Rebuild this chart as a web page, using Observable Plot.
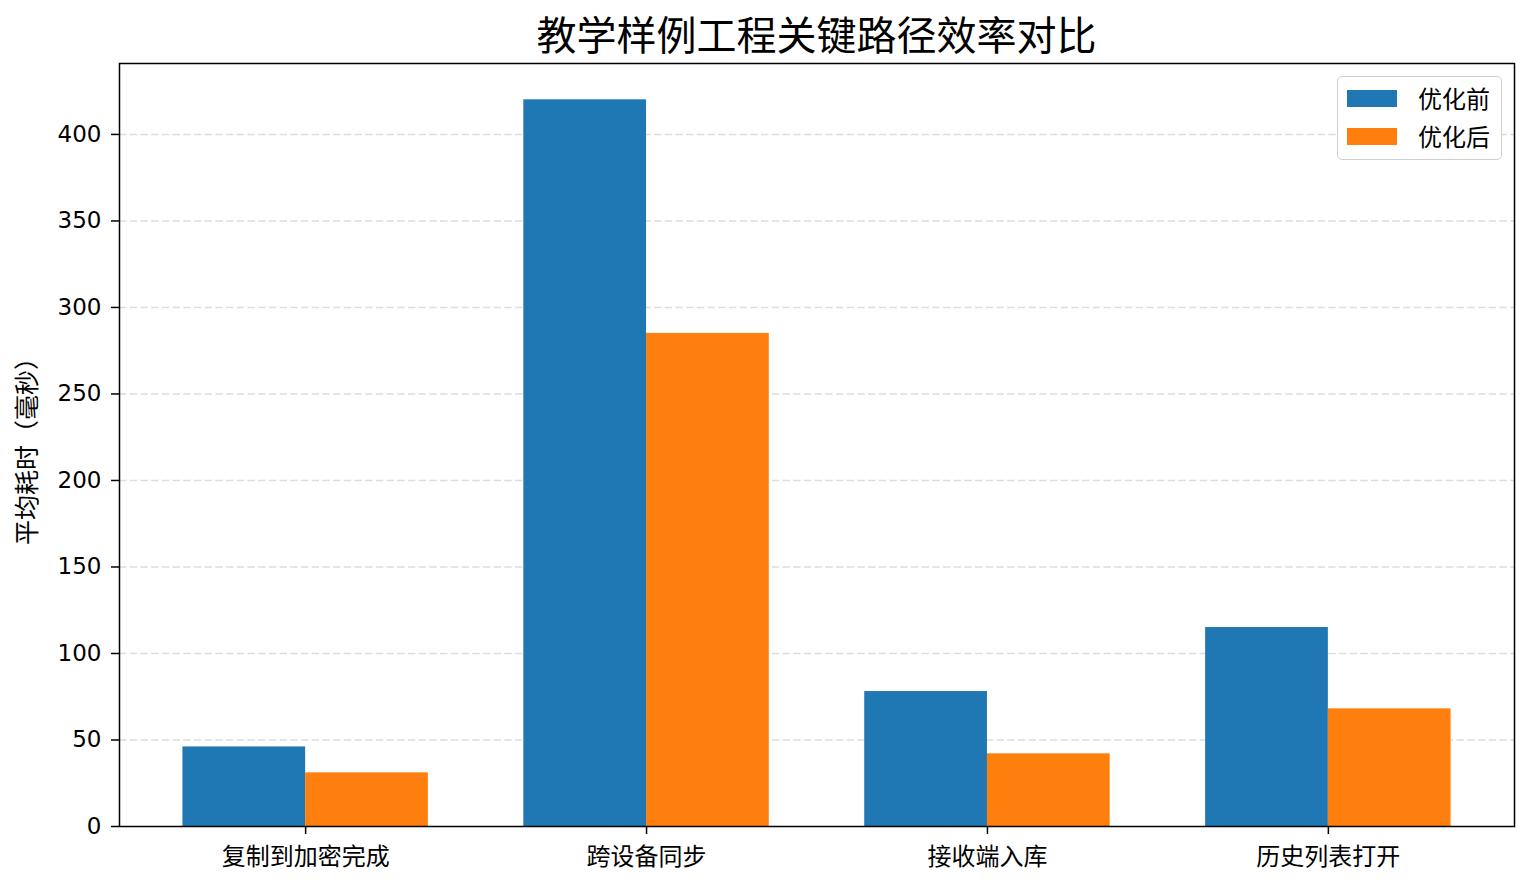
<!DOCTYPE html>
<html>
<head>
<meta charset="utf-8">
<script src="https://cdn.jsdelivr.net/npm/d3@7"></script>
<script src="https://cdn.jsdelivr.net/npm/@observablehq/plot@0.6"></script>
<style>
  html, body { margin: 0; padding: 0; background: white; overflow: hidden; }
  #wrap { position: relative; width: 1532px; height: 887px; font-family: "DejaVu Sans", "Noto Sans CJK SC", sans-serif; }
  #title { box-sizing: border-box; height: 55px; padding: 11px 18px 0 119px; line-height: 44px; font-size: 40px; text-align: center; color: black; font-family: "Noto Sans CJK SC", "DejaVu Sans", sans-serif; white-space: nowrap; }
  #legend { position: absolute; left: 1337px; top: 76px; width: 165px; height: 84px; box-sizing: border-box; border: 1.5px solid #d0d0d0; border-radius: 5px; background: rgba(255,255,255,0.85); }
  .item { position: absolute; left: 9px; height: 24px; display: flex; align-items: center; }
  .sw { width: 50px; height: 17px; margin-right: 21px; }
  .lab { font-size: 24px; font-family: "Noto Sans CJK SC", "DejaVu Sans", sans-serif; line-height: 24px; color: black; }
</style>
</head>
<body>
<div id="wrap">
  <div id="title">教学样例工程关键路径效率对比</div>
  <div id="chart"></div>
  <div id="legend"></div>
</div>
<script>
const categories = ["复制到加密完成", "跨设备同步", "接收端入库", "历史列表打开"];
const seriesNames = ["优化前", "优化后"];
const before = [46, 420, 78, 115];
const after = [31, 285, 42, 68];
const colors = ["#1f77b4", "#ff7f0e"];
const yTicks = [0, 50, 100, 150, 200, 250, 300, 350, 400];
const yLabel = "平均耗时（毫秒）";

const barWidth = 0.36;
const seriesValues = [before, after];
const rows = [];
categories.forEach((c, i) => {
  seriesValues.forEach((vals, s) => {
    const x1 = i + (s === 0 ? -barWidth : 0);
    rows.push({category: c, series: seriesNames[s], value: vals[i], x1, x2: x1 + barWidth});
  });
});

const span = (categories.length - 1) + 2 * barWidth;
const xDomain = [-barWidth - 0.05 * span, categories.length - 1 + barWidth + 0.05 * span];
const yMax = d3.max([...before, ...after]) * 1.05;

const chart = Plot.plot({
  width: 1532,
  height: 832,
  marginTop: 8,
  marginBottom: 61,
  marginLeft: 119,
  marginRight: 18,
  style: {fontFamily: "'DejaVu Sans', 'Noto Sans CJK SC', sans-serif", fontSize: "23px", color: "black", background: "white"},
  x: {domain: xDomain},
  y: {domain: [0, yMax]},
  color: {domain: seriesNames, range: colors},
  marks: [
    Plot.gridY(yTicks.filter(d => d > 0), {stroke: "#dddddd", strokeOpacity: 1, strokeWidth: 1.5, strokeDasharray: "7.5,3.2"}),
    Plot.rectY(rows, {x1: "x1", x2: "x2", y: "value", fill: "series"}),
    Plot.axisY(yTicks, {tickSize: 8, tickPadding: 10, strokeWidth: 1.5, fontSize: 23, label: null}),
    Plot.axisY([], {fontSize: 25, label: yLabel, labelAnchor: "center", labelOffset: 101, labelArrow: "none", fontFamily: "'Noto Sans CJK SC', 'DejaVu Sans', sans-serif"}),
    Plot.axisX(d3.range(categories.length), {tickSize: 8, tickPadding: 13, strokeWidth: 1.5, fontSize: 24, tickFormat: i => categories[i], label: null, fontFamily: "'Noto Sans CJK SC', 'DejaVu Sans', sans-serif"}),
    Plot.frame({stroke: "black", strokeWidth: 1.5})
  ]
});
document.getElementById("chart").appendChild(chart);

const legend = document.getElementById("legend");
seriesNames.forEach((name, s) => {
  const item = document.createElement("div");
  item.className = "item";
  item.style.top = (9 + s * 38) + "px";
  item.innerHTML = `<div class="sw" style="background:${colors[s]}"></div><span class="lab">${name}</span>`;
  legend.appendChild(item);
});
</script>
</body>
</html>
